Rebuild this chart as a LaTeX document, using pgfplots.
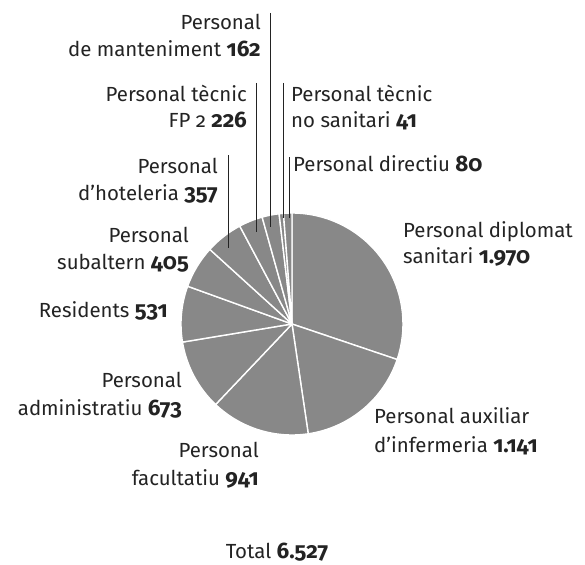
\documentclass[border=0pt]{standalone}
\usepackage{pgfplots}
\pgfplotsset{compat=1.18}
\usepackage{fontspec}
\setmainfont{Fira Sans}[Numbers=OldStyle]
\definecolor{piegray}{RGB}{136,136,136}
\definecolor{txt}{RGB}{35,35,35}
\newcommand\n[1]{{\fontsize{22.5}{27}\selectfont\bfseries #1}}
\begin{document}
\begin{tikzpicture}[every node/.append style={inner sep=0pt, text=txt, font=\fontsize{20.5}{27}\selectfont}]
\begin{axis}[name=pie, hide axis, scale only axis, width=585bp, height=565bp,
    xmin=0, xmax=585, ymin=0, ymax=565, y dir=reverse, clip=false]
% slices, clockwise from the top
\def\total{6527}
\def\cum{0}
\pgfplotsforeachungrouped \v in {1970,1141,941,673,531,405,357,226,162,41,80}{%
  \pgfmathsetmacro\a{90-\cum/\total*360}%
  \pgfmathsetmacro\b{90-(\cum+\v)/\total*360}%
  \edef\temp{\noexpand\fill[piegray, draw=white, line width=1.4pt, line join=round]
    (axis cs:292,324) -- ++(\a:111bp) arc[start angle=\a, end angle=\b, radius=111bp] -- cycle;}%
  \temp
  \pgfmathsetmacro\cum{\cum+\v}%
}
% leader lines
\draw[txt, line width=0.8pt] (axis cs:270,13) -- (axis cs:270,227);
\draw[txt, line width=0.8pt] (axis cs:256,83) -- (axis cs:256,232);
\draw[txt, line width=0.8pt] (axis cs:283,83) -- (axis cs:283,218);
\draw[txt, line width=0.8pt] (axis cs:289,157) -- (axis cs:289,218);
\draw[txt, line width=0.8pt] (axis cs:228,155) -- (axis cs:228,248);
% labels
\node[anchor=base east] at (axis cs:261,30) {Personal};
\node[anchor=base east] at (axis cs:261,57) {de manteniment \n{162}};
\node[anchor=base east] at (axis cs:247,101) {Personal tècnic};
\node[anchor=base east] at (axis cs:247,127) {FP 2 \n{226}};
\node[anchor=base west] at (axis cs:291,101) {Personal tècnic};
\node[anchor=base west] at (axis cs:291,127) {no sanitari \n{41}};
\node[anchor=base west] at (axis cs:293,171) {Personal directiu \n{80}};
\node[anchor=base east] at (axis cs:218,173) {Personal};
\node[anchor=base east] at (axis cs:218,200) {d’hoteleria \n{357}};
\node[anchor=base east] at (axis cs:189,242) {Personal};
\node[anchor=base east] at (axis cs:189,269) {subaltern \n{405}};
\node[anchor=base west] at (axis cs:403,237) {Personal diplomat};
\node[anchor=base west] at (axis cs:403,263) {sanitari \n{1.970}};
\node[anchor=base east] at (axis cs:168,317) {Residents \n{531}};
\node[anchor=base east] at (axis cs:182,387) {Personal};
\node[anchor=base east] at (axis cs:182,415) {administratiu \n{673}};
\node[anchor=base west] at (axis cs:374,423) {Personal auxiliar};
\node[anchor=base west] at (axis cs:374,452) {d’infermeria \n{1.141}};
\node[anchor=base east] at (axis cs:259,457) {Personal};
\node[anchor=base east] at (axis cs:259,485) {facultatiu \n{941}};
\node[anchor=base] at (axis cs:277,558) {Total \n{6.527}};
\end{axis}
\pgfresetboundingbox
\useasboundingbox (pie.south west) rectangle (pie.north east);
\end{tikzpicture}
\end{document}
